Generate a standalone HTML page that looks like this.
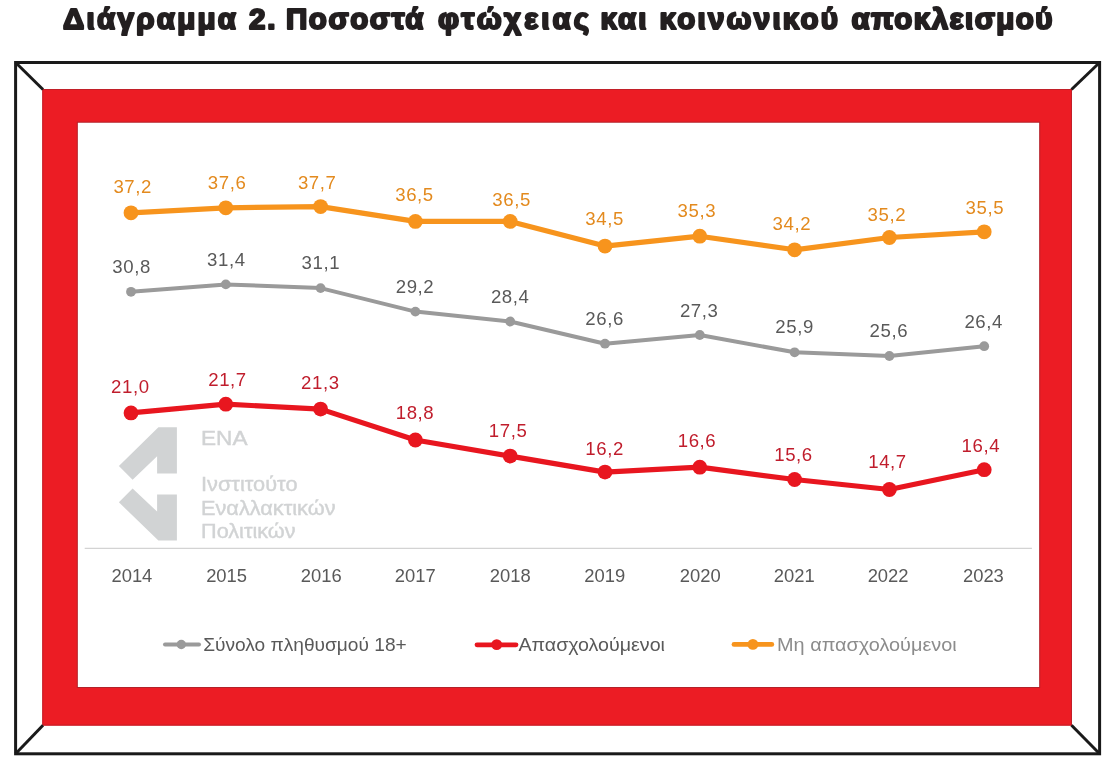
<!DOCTYPE html>
<html lang="el"><head><meta charset="utf-8"><title>Διάγραμμα 2</title>
<style>
html,body{margin:0;padding:0;background:#fff;}
body{width:1118px;height:775px;overflow:hidden;position:relative;}
svg{position:absolute;left:0;top:0;display:block;will-change:transform;}
</style></head><body>
<svg width="1118" height="775" viewBox="0 0 1118 775">
<g font-family="Liberation Sans, sans-serif" font-weight="bold" font-size="29.5" fill="#231F20" stroke="#231F20" stroke-width="2.2" stroke-linejoin="round"><text x="63.0" y="28.6" textLength="173.0" lengthAdjust="spacing">Διάγραμμα</text><text x="249.0" y="28.6" textLength="26.5" lengthAdjust="spacing">2.</text><text x="286.0" y="28.6" textLength="137.5" lengthAdjust="spacing">Ποσοστά</text><text x="438.0" y="28.6" textLength="151.0" lengthAdjust="spacing">φτώχειας</text><text x="600.5" y="28.6" textLength="46.0" lengthAdjust="spacing">και</text><text x="659.5" y="28.6" textLength="178.5" lengthAdjust="spacing">κοινωνικού</text><text x="851.5" y="28.6" textLength="201.0" lengthAdjust="spacing">αποκλεισμού</text></g>
<rect x="42.3" y="89" width="1029.7" height="636.6" fill="#EC1C24"/>
<rect x="42.8" y="89.5" width="1028.7" height="635.6" fill="none" stroke="#C21F28" stroke-width="1"/>
<rect x="77.3" y="122.2" width="962.4" height="565.3" fill="#fff" stroke="#B3222A" stroke-width="1"/>
<g stroke="#1A1A1A" stroke-width="3" fill="none">
<rect x="15.6" y="62.5" width="1084" height="691.3"/>
<line x1="15.6" y1="62.5" x2="43" y2="89.5"/>
<line x1="1099.6" y1="62.5" x2="1071.5" y2="89.5"/>
<line x1="15.6" y1="753.8" x2="43" y2="725.3"/>
<line x1="1099.6" y1="753.8" x2="1071.5" y2="725.3"/>
</g>
<g fill="#D1D3D4"><polygon points="158.4,427.3 176.9,427.3 176.9,473.5 157.1,473.5 157.1,456.3 132.6,479.7 118.9,466"/><polygon points="132.6,488.5 157.1,511.6 157.1,494.5 176.9,494.5 176.9,540.6 158.4,540.6 118.9,502.3"/></g>
<g fill="#D1D3D4" stroke="#D1D3D4" stroke-width="0.4" font-family="Liberation Sans, sans-serif"><text x="201" y="444.7" font-size="19.5" textLength="46.5" lengthAdjust="spacingAndGlyphs">ΕΝΑ</text><text x="201" y="491" font-size="20" textLength="96.5" lengthAdjust="spacingAndGlyphs">Ινστιτούτο</text><text x="201" y="514.6" font-size="20" textLength="134.5" lengthAdjust="spacingAndGlyphs">Εναλλακτικών</text><text x="201" y="537.7" font-size="20" textLength="94.5" lengthAdjust="spacingAndGlyphs">Πολιτικών</text></g>
<line x1="84.7" y1="548.4" x2="1031.9" y2="548.4" stroke="#D3D3D3" stroke-width="1.3"/>
<g font-family="Liberation Sans, sans-serif" font-size="18.4" fill="#595959" text-anchor="middle">
<text x="131.9" y="582">2014</text>
<text x="226.6" y="582">2015</text>
<text x="321.2" y="582">2016</text>
<text x="415.3" y="582">2017</text>
<text x="510.3" y="582">2018</text>
<text x="604.8" y="582">2019</text>
<text x="700.2" y="582">2020</text>
<text x="794.2" y="582">2021</text>
<text x="888.1" y="582">2022</text>
<text x="983.4" y="582">2023</text>
</g>
<polyline points="131.0,291.8 225.8,284.4 320.6,288.1 415.4,311.6 510.2,321.5 605.0,343.7 699.8,335.0 794.6,352.3 889.4,356.0 984.2,346.2" fill="none" stroke="#9A9A9A" stroke-width="4.0" stroke-linejoin="round" stroke-linecap="round"/><g fill="#9A9A9A"><circle cx="131.0" cy="291.8" r="4.9"/><circle cx="225.8" cy="284.4" r="4.9"/><circle cx="320.6" cy="288.1" r="4.9"/><circle cx="415.4" cy="311.6" r="4.9"/><circle cx="510.2" cy="321.5" r="4.9"/><circle cx="605.0" cy="343.7" r="4.9"/><circle cx="699.8" cy="335.0" r="4.9"/><circle cx="794.6" cy="352.3" r="4.9"/><circle cx="889.4" cy="356.0" r="4.9"/><circle cx="984.2" cy="346.2" r="4.9"/></g><g font-family="Liberation Sans, sans-serif" font-size="18.6" letter-spacing="0.6" fill="#595959" text-anchor="middle"><text x="131.6" y="273.3">30,8</text><text x="226.4" y="265.5">31,4</text><text x="320.9" y="268.7">31,1</text><text x="415.0" y="292.9">29,2</text><text x="510.2" y="303.4">28,4</text><text x="604.6" y="324.7">26,6</text><text x="699.2" y="316.5">27,3</text><text x="794.6" y="333.3">25,9</text><text x="888.9" y="336.7">25,6</text><text x="983.7" y="327.5">26,4</text></g>
<polyline points="131.0,412.9 225.8,404.2 320.6,409.1 415.4,440.0 510.2,456.1 605.0,472.1 699.8,467.2 794.6,479.5 889.4,489.5 984.2,469.7" fill="none" stroke="#E8161F" stroke-width="5.2" stroke-linejoin="round" stroke-linecap="round"/><g fill="#E8161F"><circle cx="131.0" cy="412.9" r="7.4"/><circle cx="225.8" cy="404.2" r="7.4"/><circle cx="320.6" cy="409.1" r="7.4"/><circle cx="415.4" cy="440.0" r="7.4"/><circle cx="510.2" cy="456.1" r="7.4"/><circle cx="605.0" cy="472.1" r="7.4"/><circle cx="699.8" cy="467.2" r="7.4"/><circle cx="794.6" cy="479.5" r="7.4"/><circle cx="889.4" cy="489.5" r="7.4"/><circle cx="984.2" cy="469.7" r="7.4"/></g><g font-family="Liberation Sans, sans-serif" font-size="18.6" letter-spacing="0.6" fill="#C01D2C" text-anchor="middle"><text x="130.3" y="393.0">21,0</text><text x="227.5" y="386.2">21,7</text><text x="320.3" y="389.0">21,3</text><text x="415.0" y="419.4">18,8</text><text x="508.1" y="437.3">17,5</text><text x="604.6" y="454.8">16,2</text><text x="697.0" y="447.2">16,6</text><text x="793.5" y="461.1">15,6</text><text x="887.5" y="468.2">14,7</text><text x="980.9" y="452.1">16,4</text></g>
<polyline points="131.0,212.8 225.8,207.8 320.6,206.6 415.4,221.4 510.2,221.4 605.0,246.1 699.8,236.2 794.6,249.8 889.4,237.5 984.2,231.8" fill="none" stroke="#F7941D" stroke-width="5.2" stroke-linejoin="round" stroke-linecap="round"/><g fill="#F7941D"><circle cx="131.0" cy="212.8" r="7.4"/><circle cx="225.8" cy="207.8" r="7.4"/><circle cx="320.6" cy="206.6" r="7.4"/><circle cx="415.4" cy="221.4" r="7.4"/><circle cx="510.2" cy="221.4" r="7.4"/><circle cx="605.0" cy="246.1" r="7.4"/><circle cx="699.8" cy="236.2" r="7.4"/><circle cx="794.6" cy="249.8" r="7.4"/><circle cx="889.4" cy="237.5" r="7.4"/><circle cx="984.2" cy="231.8" r="7.4"/></g><g font-family="Liberation Sans, sans-serif" font-size="18.6" letter-spacing="0.6" fill="#E38A1E" text-anchor="middle"><text x="132.7" y="193.3">37,2</text><text x="227.1" y="188.6">37,6</text><text x="317.2" y="189.0">37,7</text><text x="414.5" y="201.2">36,5</text><text x="511.6" y="205.5">36,5</text><text x="604.6" y="224.8">34,5</text><text x="696.9" y="216.6">35,3</text><text x="791.9" y="230.1">34,2</text><text x="886.9" y="221.1">35,2</text><text x="984.8" y="213.9">35,5</text></g>
<g stroke-linecap="round"><line x1="165" y1="644.5" x2="199" y2="644.5" stroke="#9A9A9A" stroke-width="4"/><circle cx="181.3" cy="644.5" r="4.7" fill="#9A9A9A"/><line x1="477" y1="644.8" x2="516" y2="644.8" stroke="#E8161F" stroke-width="4.8"/><circle cx="496.7" cy="644.6" r="5.4" fill="#E8161F"/><line x1="734" y1="644.4" x2="771.8" y2="644.4" stroke="#F7941D" stroke-width="4.8"/><circle cx="752.9" cy="644.4" r="5.4" fill="#F7941D"/></g>
<g font-family="Liberation Sans, sans-serif" font-size="19"><text x="203.2" y="651.2" fill="#595959" textLength="203.5" lengthAdjust="spacingAndGlyphs">Σύνολο πληθυσμού 18+</text><text x="518.4" y="651.2" fill="#595959" textLength="146.6" lengthAdjust="spacingAndGlyphs">Απασχολούμενοι</text><text x="777" y="651.2" fill="#8C8C8C" textLength="179.7" lengthAdjust="spacingAndGlyphs">Μη απασχολούμενοι</text></g>
</svg>
</body></html>
